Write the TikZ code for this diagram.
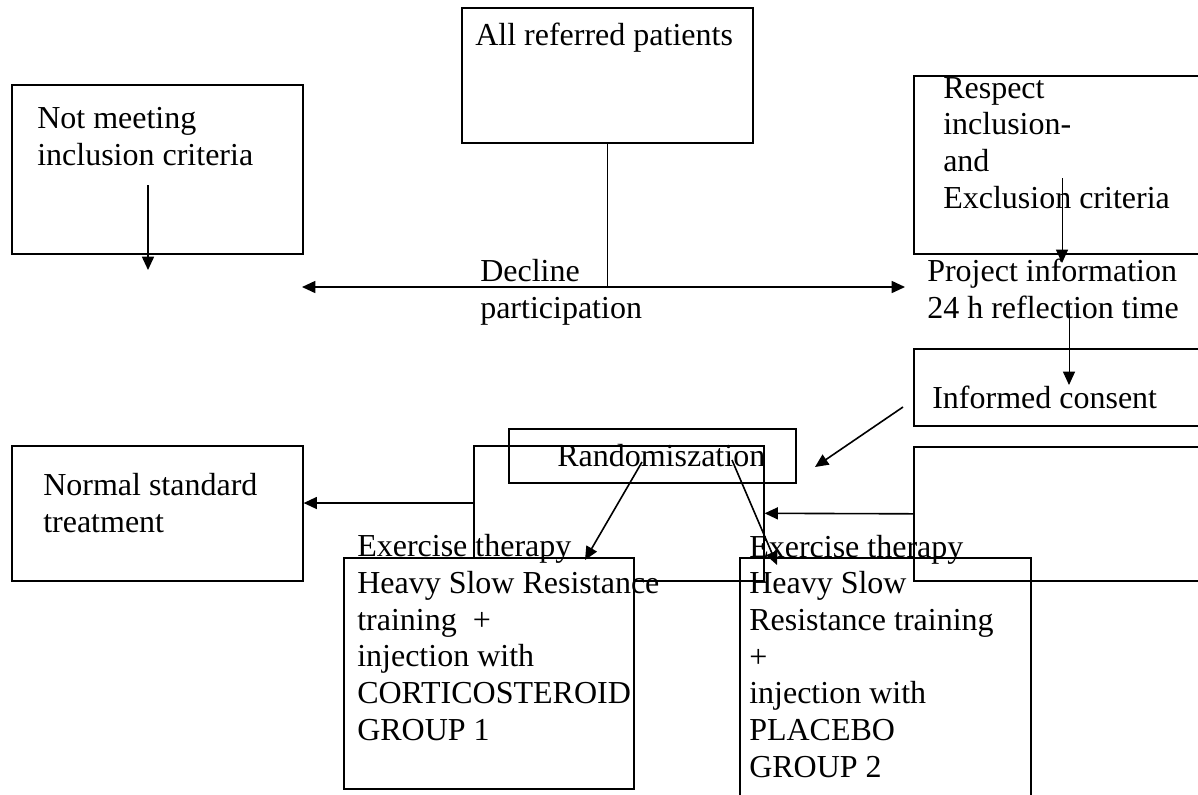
\documentclass[tikz,border=0pt]{standalone}
\usepackage{fontspec}
\setmainfont{Liberation Serif}
\usetikzlibrary{arrows.meta}

\begin{document}
\begin{tikzpicture}[x=0.75pt,y=-0.75pt,
 box/.style 2 args={draw, line width=1.2pt, anchor=north west, inner sep=0pt,
   minimum width=#1*0.75pt, minimum height=#2*0.75pt},
 txt/.style={anchor=base west, inner sep=0pt, align=left, font=\fontsize{24}{27.5}\selectfont},
 arr/.style={-{Triangle[length=10pt,width=9pt]}, line width=1.2pt},
 tharr/.style={-{Triangle[length=10pt,width=9pt]}, line width=0.75pt}]
\clip (0,0) rectangle (1198,794);

% boxes
\node[box={291}{169}] (nmbox) at (11,84) {};
\node[box={291}{135}] (allbox) at (461,7) {};
\node[box={300}{178}] (respbox) at (913,75) {};
\node[box={300}{77}] (infbox) at (913,348) {};
\node[box={291}{135}] (normbox) at (11,445) {};
\node[box={287}{54}] (rndbox) at (508,428) {};
\node[box={291}{245}, fill=white] (g2box) at (739,557) {};
\node[box={290}{135}] (loopbox) at (473,445) {};
\node[box={300}{134}] (emptybox) at (913,446) {};
\node[box={290}{231}, fill=white] (g1box) at (343,557) {};

% texts (placed at the baseline of the last line)
\node[txt] (nmtxt) at (37,165) {Not meeting\\inclusion criteria};
\node[txt] (alltxt) at (475,45) {All referred patients};
\node[txt] (decltxt) at (480,318) {Decline\\participation};
\node[txt] (resptxt) at (943,208) {Respect\\inclusion-\\and\\Exclusion criteria};
\node[txt] (projtxt) at (927,318) {Project information\\24 h reflection time};
\node[txt] (inftxt) at (932,408) {Informed consent};
\node[txt] (normtxt) at (43,532) {Normal standard\\treatment};
\node[txt] (rndtxt) at (557,466) {Randomiszation};
\node[txt] (g1txt) at (357,740) {Exercise therapy\\Heavy Slow Resistance\\training \ +\\injection with\\CORTICOSTEROID\\GROUP 1};
\node[txt] (g2txt) at (749,777) {Exercise therapy\\Heavy Slow\\Resistance training\\+\\injection with\\PLACEBO\\GROUP 2};

% arrows
\coordinate (nmfrom) at (148,185);
\coordinate (nmto) at (148,270);
\coordinate (split) at (allbox.south |- 0,287);
\coordinate (declL) at (302,287);
\coordinate (declR) at (905,287);
\coordinate (respfrom) at (1062,178);
\coordinate (respto) at (1062,263);
\coordinate (projfrom) at (1069,305);
\coordinate (projto) at (1069,385);
\coordinate (inffrom) at (903,407);
\coordinate (infto) at (815,467);
\coordinate (rndA) at (642,462);
\coordinate (g1to) at (585,560);
\coordinate (rndB) at (732,460);
\coordinate (g2to) at (777,565);

\draw[arr] (nmfrom) -- (nmto);
\draw[line width=1.2pt] (allbox.south) -- (split);
\draw[arr] (split) -- (declL);
\draw[arr] (split) -- (declR);
\draw[tharr] (respfrom) -- (respto);
\draw[tharr] (projfrom) -- (projto);
\draw[arr] (inffrom) -- (infto);
\draw[arr] (rndA) -- (g1to);
\draw[arr] (rndB) -- (g2to);
\draw[arr] (emptybox.west) -- (loopbox.east);
\draw[arr] (loopbox.west |- 0,503) -- (normbox.east |- 0,503);

\end{tikzpicture}
\end{document}
